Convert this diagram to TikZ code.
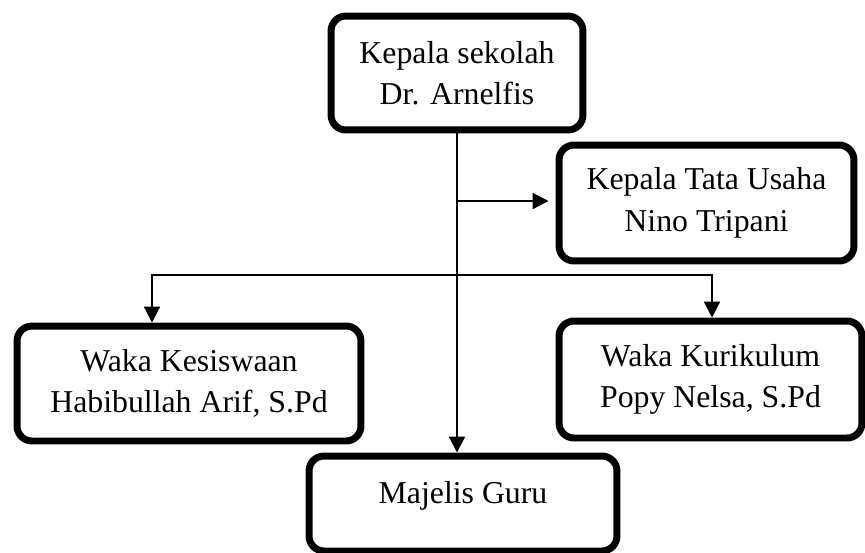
\documentclass[tikz,border=0pt]{standalone}
\usepackage{fontspec}
\setmainfont{Liberation Serif}
\usetikzlibrary{arrows.meta, positioning}

\begin{document}
\begin{tikzpicture}[x=0.02cm, y=-0.02cm,
  every node/.style={font=\fontsize{18.1}{23.6}\selectfont},
  orgbox/.style={rectangle, rounded corners=0.3cm, draw, line width=0.14cm, align=center, inner sep=0pt},
  conn/.style={line width=1.2pt, -{Triangle[length=0.32cm, width=0.32cm]}},
]
\useasboundingbox (0,0) rectangle (865,552);
\node[orgbox, minimum width=5.04cm, minimum height=2.28cm] (kepsek) at (457, 73) {Kepala sekolah\\Dr. Arnelfis};
\node[orgbox, minimum width=5.9cm, minimum height=2.32cm] (tatausaha) at (706.5, 203) {Kepala Tata Usaha\\Nino Tripani};
\node[orgbox, minimum width=6.88cm, minimum height=2.3cm] (kesiswaan) at (189, 383.5) {Waka Kesiswaan\\Habibullah Arif, S.Pd};
\node[orgbox, minimum width=6.06cm, minimum height=2.34cm] (kurikulum) at (710.5, 379.5) {Waka Kurikulum\\Popy Nelsa, S.Pd};
\node[orgbox, minimum width=6.16cm, minimum height=1.9cm, text height=0.45cm, text depth=0.45cm] (majelis) at (463, 503.5) {Majelis Guru};
\coordinate (busL) at (152, 275);
\coordinate (busR) at (712, 275);
\draw[conn] (kepsek.south) -- (kepsek.south |- majelis.north);
\draw[conn, shorten >=0.14cm] (kepsek.south |- 0, 201) -- (tatausaha.west |- 0, 201);
\draw[conn, {Triangle[length=0.32cm, width=0.32cm]}-{Triangle[length=0.32cm, width=0.32cm]}] (busL |- kesiswaan.north) -- (busL) -- (busR) -- (busR |- kurikulum.north);
\end{tikzpicture}
\end{document}
